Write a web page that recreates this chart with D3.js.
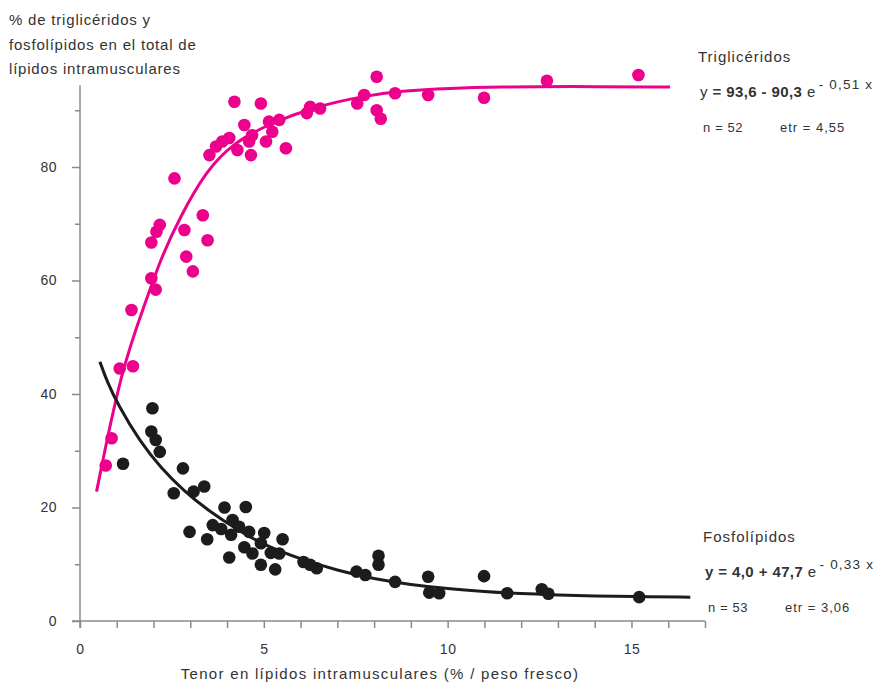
<!DOCTYPE html>
<html>
<head>
<meta charset="utf-8">
<script src="https://cdn.jsdelivr.net/npm/d3@7"></script>
<style>
  body { margin: 0; background: #fff; }
  text { font-family: "Liberation Sans", Arial, sans-serif; fill: #333; }
</style>
</head>
<body>
<div id="chart"></div>
<script>
  var width = 889,
      height = 683;

  // Triglicéridos (puntos)
  var triX = [0.70,0.86,1.08,1.44,1.40,1.94,2.06,1.94,2.08,2.17,2.57,2.84,2.89,3.07,3.34,3.47,3.52,3.70,3.87,4.06,4.20,4.28,4.47,4.60,4.65,4.68,4.92,5.06,5.14,5.23,5.42,5.60,6.17,6.26,6.53,7.54,7.73,8.07,8.07,8.18,8.57,9.47,10.99,12.70,15.19];
  var triY = [27.4,32.2,44.5,44.9,54.8,60.4,58.4,66.7,68.6,69.8,78.0,68.9,64.2,61.6,71.5,67.1,82.1,83.6,84.5,85.1,91.5,83.0,87.4,84.5,82.1,85.6,91.2,84.5,88.0,86.2,88.3,83.3,89.5,90.6,90.3,91.2,92.7,95.9,90.0,88.5,93.0,92.7,92.2,95.2,96.2];

  // Fosfolípidos (puntos)
  var fosX = [1.17,1.97,1.94,2.06,2.17,2.80,2.55,3.09,3.38,2.98,3.46,3.93,4.51,3.61,3.84,4.15,4.33,4.11,4.60,5.01,5.51,4.92,4.47,4.69,5.19,5.42,4.06,4.92,5.31,6.08,6.26,6.44,7.52,7.76,8.12,8.12,8.57,9.47,9.50,9.77,10.99,11.62,12.56,12.74,15.21];
  var fosY = [27.7,37.5,33.4,31.9,29.8,26.9,22.5,22.8,23.7,15.7,14.4,20.0,20.1,16.9,16.2,17.8,16.6,15.2,15.7,15.5,14.4,13.7,13.0,11.9,12.0,11.9,11.2,9.9,9.1,10.4,9.9,9.3,8.7,8.1,11.5,9.9,6.9,7.8,5.0,4.9,7.9,4.9,5.6,4.8,4.2];

  // curvas de ajuste
  var triCurveX = [0.45,1.13,1.81,2.18,2.72,3.45,4.17,5.08,6.35,7.80,8.71,10.07,11.43,13.24,16.05];
  var triCurveY = [22.8,44.6,56.6,63.6,71.2,79.5,84.2,87.4,90.6,92.6,93.4,93.9,94.1,94.2,94.1];
  var fosCurveX = [0.54,0.73,1.04,1.63,2.2,2.81,3.5,4.3,5.0,6.0,7.0,8.0,9.0,10.0,11.0,12.0,13.0,14.0,15.0,16.6];
  var fosCurveY = [45.7,42.3,38.0,31.6,27.0,23.0,19.4,16.0,13.4,10.9,8.9,7.4,6.4,5.7,5.2,4.8,4.6,4.4,4.3,4.2];

  var xTicks = d3.range(0, 18, 1),
      xLabels = [0, 5, 10, 15],
      yTicks = d3.range(0, 100, 10),
      yLabels = [0, 20, 40, 60, 80];

  var titleLines = ["% de triglicéridos y", "fosfolípidos en el total de", "lípidos intramusculares"];
  var xTitle = "Tenor en lípidos intramusculares  (% / peso fresco)";

  var pink = "#ec008c",
      dark = "#1c1c1c",
      axisColor = "#8a8a8a";

  var svg = d3.select("#chart")
      .append("svg")
      .attr("width", width)
      .attr("height", height);

  var x = d3.scaleLinear().domain([0, 17]).range([80, 705]);
  var y = d3.scaleLinear().domain([0, 100]).range([621, 53.5]);

  // ejes
  var xAxis = d3.axisBottom(x)
      .tickValues(xTicks)
      .tickSize(7)
      .tickPadding(16)
      .tickSizeOuter(0)
      .tickFormat(function(d) { return xLabels.indexOf(d) >= 0 ? d : ""; });

  svg.append("g")
      .attr("transform", "translate(0," + y(0) + ")")
      .call(xAxis);

  var yAxis = d3.axisLeft(y)
      .tickValues(yTicks)
      .tickSize(8)
      .tickPadding(15)
      .tickSizeOuter(0)
      .tickFormat(function(d) { return yLabels.indexOf(d) >= 0 ? d : ""; });

  var gy = svg.append("g")
      .attr("transform", "translate(" + x(0) + ",0)")
      .call(yAxis);

  gy.selectAll(".tick line")
      .attr("x2", function(d) { return yLabels.indexOf(d) >= 0 ? -8 : -5; });

  svg.selectAll(".domain").remove();
  svg.selectAll(".tick line").attr("stroke", axisColor).attr("stroke-width", 1.5);
  svg.selectAll(".tick text")
      .style("font-size", "14px")
      .style("letter-spacing", "0.5px")
      .attr("fill", "#333");

  svg.append("line")
      .attr("x1", x(0) - 8).attr("x2", x(17))
      .attr("y1", y(0)).attr("y2", y(0))
      .attr("stroke", axisColor).attr("stroke-width", 1.5);

  svg.append("line")
      .attr("x1", x(0)).attr("x2", x(0))
      .attr("y1", y(0) + 7).attr("y2", y(94.4))
      .attr("stroke", axisColor).attr("stroke-width", 1.5);

  // curvas
  var line = d3.line()
      .x(function(d) { return x(d[0]); })
      .y(function(d) { return y(d[1]); })
      .curve(d3.curveBasis);

  svg.append("path")
      .datum(d3.zip(triCurveX, triCurveY))
      .attr("d", line)
      .attr("fill", "none")
      .attr("stroke", pink)
      .attr("stroke-width", 3);

  svg.append("path")
      .datum(d3.zip(fosCurveX, fosCurveY))
      .attr("d", line)
      .attr("fill", "none")
      .attr("stroke", dark)
      .attr("stroke-width", 3);

  // puntos
  svg.selectAll(".tri")
      .data(d3.zip(triX, triY))
    .enter().append("circle")
      .attr("class", "tri")
      .attr("cx", function(d) { return x(d[0]); })
      .attr("cy", function(d) { return y(d[1]); })
      .attr("r", 6.3)
      .attr("fill", pink);

  svg.selectAll(".fos")
      .data(d3.zip(fosX, fosY))
    .enter().append("circle")
      .attr("class", "fos")
      .attr("cx", function(d) { return x(d[0]); })
      .attr("cy", function(d) { return y(d[1]); })
      .attr("r", 6.3)
      .attr("fill", dark);

  // título del eje y
  svg.selectAll(".ytitle")
      .data(titleLines)
    .enter().append("text")
      .attr("x", 9)
      .attr("y", function(d, i) { return 25 + i * 24.5; })
      .style("font-size", "15px")
      .style("letter-spacing", "0.8px")
      .text(function(d) { return d; });

  svg.append("text")
      .attr("x", 380)
      .attr("y", 679)
      .attr("text-anchor", "middle")
      .style("font-size", "15px")
      .style("letter-spacing", "1.3px")
      .text(xTitle);

  // leyendas con ecuaciones
  function legend(x0, y0, name, parts, sup, n, etr) {
    svg.append("text")
        .attr("x", x0).attr("y", y0)
        .style("font-size", "15px")
        .style("letter-spacing", "1px")
        .text(name);

    var eq = svg.append("text")
        .attr("x", x0 + 2).attr("y", y0 + 35)
        .style("font-size", "15px")
        .style("letter-spacing", "0.4px");
    parts.forEach(function(p) {
      eq.append("tspan")
          .style("font-weight", p[1] ? "bold" : "normal")
          .text(p[0]);
    });
    eq.append("tspan")
        .attr("dx", 3)
        .attr("dy", -8)
        .style("font-size", "13.5px")
        .style("letter-spacing", "1.2px")
        .text(sup);

    svg.append("text")
        .attr("x", x0 + 5).attr("y", y0 + 70)
        .style("font-size", "13px")
        .style("letter-spacing", "0.6px")
        .text(n);

    svg.append("text")
        .attr("x", x0 + 82).attr("y", y0 + 70)
        .style("font-size", "13px")
        .style("letter-spacing", "1px")
        .text(etr);
  }

  legend(698, 62, "Triglicéridos",
      [["y ", false], [" = 93,6 - 90,3", true], [" e", false]],
      "- 0,51 x", "n = 52", "etr = 4,55");

  legend(703, 542, "Fosfolípidos",
      [["y = 4,0 + 47,7", true], [" e", false]],
      "- 0,33 x", "n = 53", "etr = 3,06");
</script>
</body>
</html>
